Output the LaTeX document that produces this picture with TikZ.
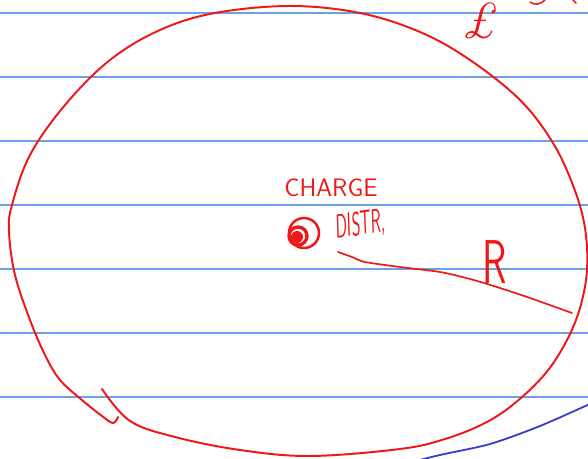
\documentclass[tikz,border=0pt]{standalone}
\usepackage{fontspec}
\usetikzlibrary{positioning}
\definecolor{ink}{RGB}{238,24,24}
\definecolor{rule}{RGB}{110,160,230}
\definecolor{pen}{RGB}{60,60,205}

\begin{document}
\begin{tikzpicture}[x=0.025cm, y=-0.025cm, line cap=round, line join=round,
    stroke/.style={ink, line width=1.4pt},
    hand/.style={ink, inner sep=0pt, font=\sffamily}]
    \useasboundingbox (0,0) rectangle (588,459);
    \clip (0,0) rectangle (588,459);

    % ruled paper
    \foreach \yy in {13,77,...,397}
      \draw[rule, line width=0.9pt] (0,\yy) -- (588,\yy);

    % big loop round the charge
    \draw[stroke] plot[smooth, tension=0.6] coordinates {
      (102,389) (130,421) (175,437) (240,450) (310,456) (400,449)
      (445,439) (485,423) (515,403) (545,374) (566,342) (580,308)
      (587,270) (585,228) (574,188) (553,143) (520,100) (470,60)
      (420,32) (360,13) (290,6) (215,13) (160,30) (110,60)
      (65,105) (30,155) (12,205) (9,232) (15,275) (30,320)
      (45,355) (60,380) (82,400) (102,416) (113,423) (118,417)};

    % outer blue stroke
    \draw[pen, line width=1.3pt] plot[smooth] coordinates {
      (400,465) (440,455) (490,444) (540,426) (592,403)};

    % charge blob
    \draw[stroke, line width=1.8pt] (304,233) circle (15);
    \draw[stroke, line width=2.4pt] (298,236) circle (9);
    \fill[ink] (297,237) circle (6);
    \node[hand, font=\sffamily\fontsize{18}{18}\selectfont] (charge) at (331,188) {CHARGE};
    \node[hand, font=\sffamily\fontsize{24}{24}\selectfont, xscale=0.5, rotate=4] (distr) at (361,225) {DISTR,};

    % radius
    \draw[ink, line width=1.2pt] plot[smooth, tension=0.5] coordinates {
      (338,252) (352,257) (365,262) (400,267) (440,272) (470,279)
      (500,288) (530,298) (572,313)};
    \node[hand, font=\sffamily\fontsize{44}{44}\selectfont, xscale=0.65] (rad) at (495,262) {R};

    % scraps at the top
    \node[hand, font=\itshape\fontsize{36}{36}\selectfont] (pound) at (481,21) {£};
    \draw[ink, line width=1.1pt] (530,2) .. controls (535,6) and (541,4) .. (545,0);
    \draw[ink, line width=1.1pt] (573,0) -- (576,3);
\end{tikzpicture}
\end{document}
